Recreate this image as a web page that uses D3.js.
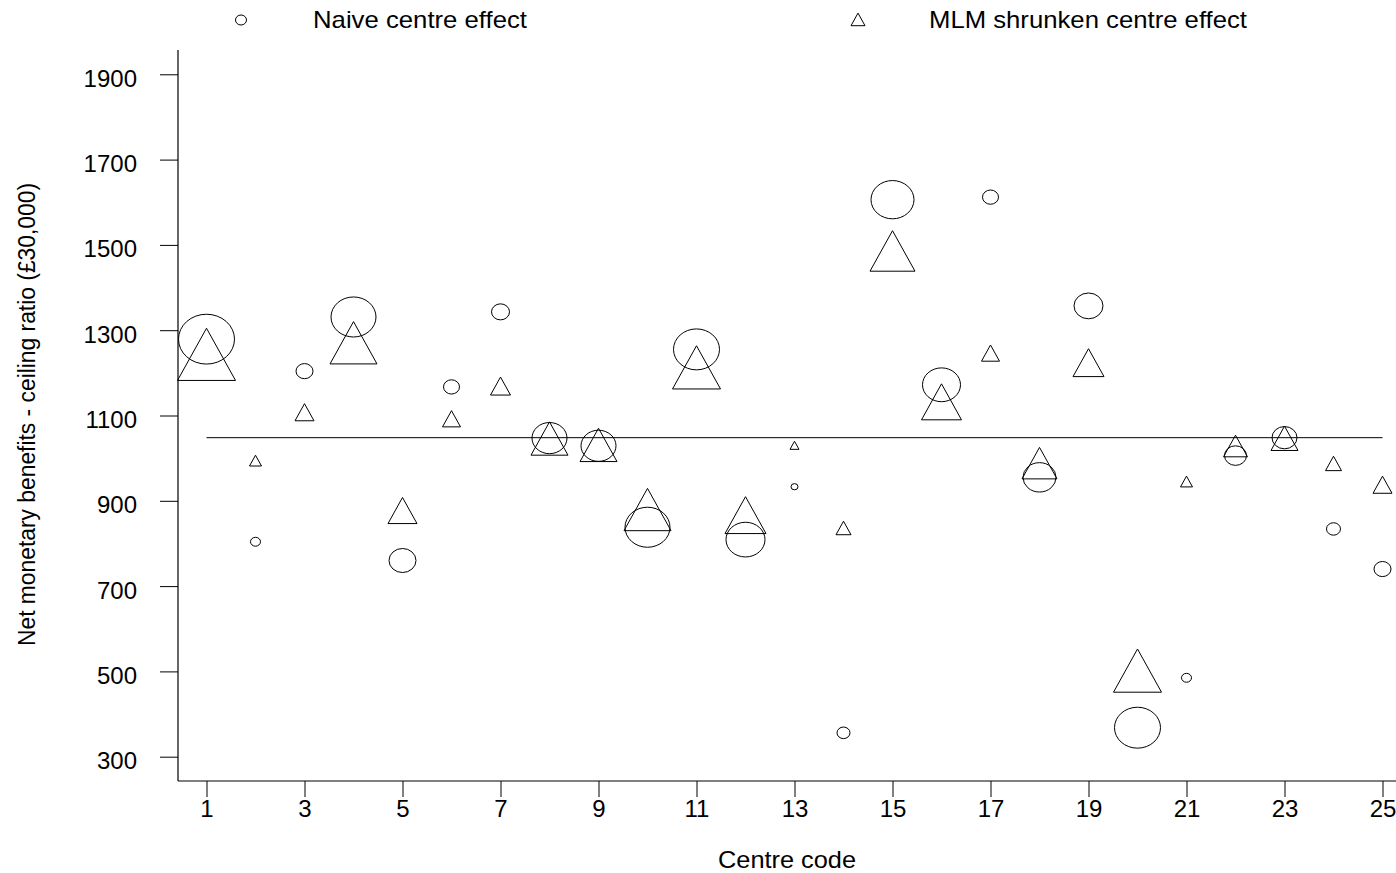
<!DOCTYPE html>
<html>
<head>
<meta charset="utf-8">
<script src="https://cdn.jsdelivr.net/npm/d3@7"></script>
<style>
  html, body { margin: 0; padding: 0; background: #fff; }
  svg { display: block; }
  text { font-family: "Liberation Sans", Arial, sans-serif; fill: #000; }
</style>
</head>
<body>
<svg id="chart" width="1396" height="873"></svg>
<script>
// ---- data ----
const centres = [1,2,3,4,5,6,7,8,9,10,11,12,13,14,15,16,17,18,19,20,21,22,23,24,25];
const naiveEffect = [1279,804,1204,1331,760,1167,1343,1047,1029,838,1255,809,933,356,1606,1172,1612,955,1357,368,485,1006,1048,834,740];
const mlmEffect   = [1223,990,1101,1254,867,1086,1162,1033,1018,863,1196,852,1027,831,1470,1118,1240,976,1213,485,941,1020,1037,982,931];
const centreWeight = [57,11,18,46,28,17,19,36,36,46,47,40,8,14,44,39,17,34,30,47,11,23,26,15,18];
const overallMean = 1048;
const yTicks = [300,500,700,900,1100,1300,1500,1700,1900];
const xTicks = [1,3,5,7,9,11,13,15,17,19,21,23,25];
const legendLabels = ["Naive centre effect", "MLM shrunken centre effect"];
const xTitle = "Centre code";
const yTitle = "Net monetary benefits - ceiling ratio (£30,000)";

// ---- scales ----
const svg = d3.select("#chart");
const x = d3.scaleLinear().domain([1, 25]).range([206.5, 1382.5]);
const y = d3.scaleLinear().domain([300, 1900]).range([756.7, 74.3]);
const size = d3.scaleLinear().domain([0, 60]).range([0, 60]);

const axisX0 = 178, axisY0 = 781;

// ---- axes ----
const yAxis = svg.append("g").attr("transform", `translate(${axisX0},0)`)
  .call(d3.axisLeft(y).tickValues(yTicks).tickSize(18).tickPadding(0).tickFormat(d3.format("d")));
yAxis.select(".domain").remove();
yAxis.selectAll("line").attr("stroke", "#000").attr("stroke-width", 1);
yAxis.selectAll("text").attr("x", -41).attr("dy", "0.5em").attr("font-size", 24)
  .attr("font-family", "Liberation Sans, Arial, sans-serif");

const xAxis = svg.append("g").attr("transform", `translate(0,${axisY0})`)
  .call(d3.axisBottom(x).tickValues(xTicks).tickSize(16).tickPadding(0).tickFormat(d3.format("d")));
xAxis.select(".domain").remove();
xAxis.selectAll("line").attr("stroke", "#000").attr("stroke-width", 1);
xAxis.selectAll("text").attr("y", 36).attr("dy", 0).attr("font-size", 24)
  .attr("font-family", "Liberation Sans, Arial, sans-serif");

svg.append("line").attr("x1", axisX0).attr("x2", axisX0).attr("y1", 50).attr("y2", axisY0)
  .attr("stroke", "#000").attr("stroke-width", 1.2);
svg.append("line").attr("x1", axisX0).attr("x2", 1396).attr("y1", axisY0).attr("y2", axisY0)
  .attr("stroke", "#000").attr("stroke-width", 1.2);

// ---- reference line ----
svg.append("line")
  .attr("x1", x(centres[0])).attr("x2", x(centres[centres.length - 1]))
  .attr("y1", y(overallMean)).attr("y2", y(overallMean))
  .attr("stroke", "#000").attr("stroke-width", 1);

// ---- symbols ----
const pts = centres.map((c, i) => ({c, naive: naiveEffect[i], mlm: mlmEffect[i], w: centreWeight[i]}));

function triPath(cx, cy, w) {
  const tw = w, th = 0.9 * w;
  return `M${cx},${cy - 2 * th / 3}L${cx + tw / 2},${cy + th / 3}L${cx - tw / 2},${cy + th / 3}Z`;
}

svg.append("g").selectAll("ellipse").data(pts).join("ellipse")
  .attr("cx", d => x(d.c)).attr("cy", d => y(d.naive))
  .attr("rx", d => (size(d.w) - 1) / 2).attr("ry", d => 0.89 * (size(d.w) - 1) / 2)
  .attr("fill", "none").attr("stroke", "#000").attr("stroke-width", 1);

svg.append("g").selectAll("path").data(pts).join("path")
  .attr("d", d => triPath(x(d.c), y(d.mlm), size(d.w) + 1))
  .attr("fill", "none").attr("stroke", "#000").attr("stroke-width", 1);

// ---- legend ----
const leg = svg.append("g");
leg.append("ellipse").attr("cx", 241).attr("cy", 20).attr("rx", 5.5).attr("ry", 5)
  .attr("fill", "none").attr("stroke", "#000").attr("stroke-width", 1);
leg.append("text").attr("x", 313).attr("y", 27.5).attr("font-size", 24)
  .attr("textLength", 214).attr("lengthAdjust", "spacingAndGlyphs").text(legendLabels[0]);
leg.append("path").attr("d", triPath(858, 21.5, 14))
  .attr("fill", "none").attr("stroke", "#000").attr("stroke-width", 1);
leg.append("text").attr("x", 929).attr("y", 27.5).attr("font-size", 24)
  .attr("textLength", 318).attr("lengthAdjust", "spacingAndGlyphs").text(legendLabels[1]);

// ---- titles ----
svg.append("text").attr("x", 787).attr("y", 868).attr("text-anchor", "middle")
  .attr("font-size", 24).attr("textLength", 138).attr("lengthAdjust", "spacingAndGlyphs").text(xTitle);
svg.append("text").attr("transform", "translate(35,414.5) rotate(-90)")
  .attr("text-anchor", "middle").attr("font-size", 23)
  .attr("textLength", 463).attr("lengthAdjust", "spacingAndGlyphs").text(yTitle);
</script>
</body>
</html>
